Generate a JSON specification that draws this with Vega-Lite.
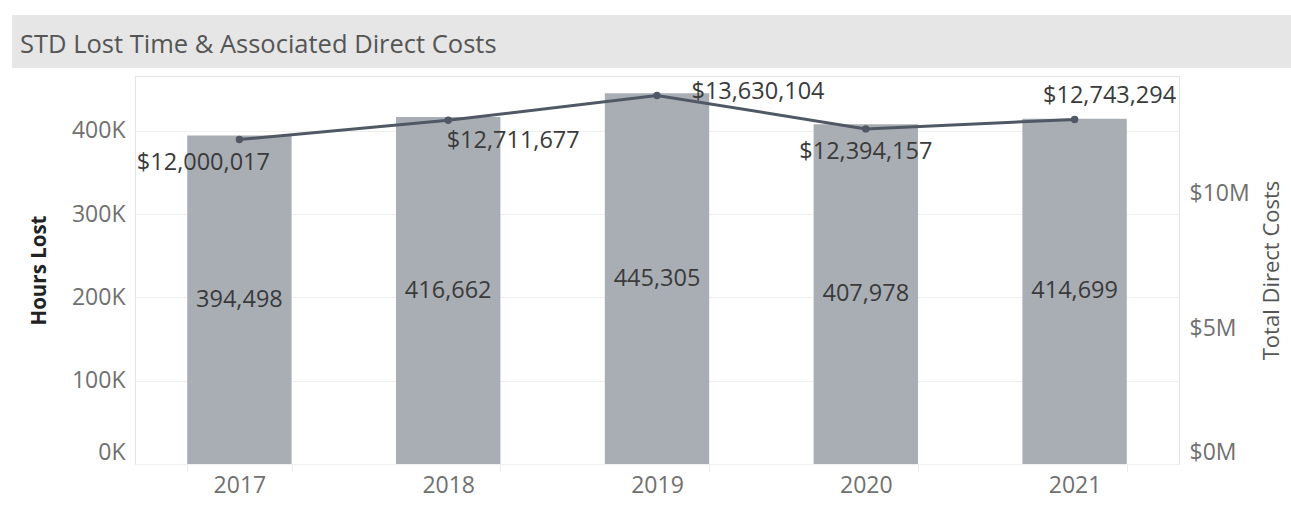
{
  "$schema": "https://vega.github.io/schema/vega-lite/v6.json",
  "padding": {"left": 12, "top": 15, "right": 0, "bottom": 0},
  "background": "white",
  "config": {
    "font": "Open Sans",
    "view": {"stroke": null},
    "axis": {"labelFont": "Open Sans", "titleFont": "Open Sans"}
  },
  "data": {
    "values": [
      {"year": "2017", "hours": 394498, "cost": 12000017},
      {"year": "2018", "hours": 416662, "cost": 12711677},
      {"year": "2019", "hours": 445305, "cost": 13630104},
      {"year": "2020", "hours": 407978, "cost": 12394157},
      {"year": "2021", "hours": 414699, "cost": 12743294}
    ]
  },
  "spacing": 8,
  "align": "none",
  "bounds": "flush",
  "vconcat": [
    {
      "width": 1279,
      "height": 53,
      "data": {"values": []},
      "view": {"fill": "#e6e6e6", "stroke": null},
      "mark": {"type": "text"},
      "encoding": {},
      "title": {
        "text": "STD Lost Time & Associated Direct Costs",
        "orient": "bottom",
        "anchor": "start",
        "frame": "group",
        "offset": -15,
        "dx": 8,
        "baseline": "alphabetic",
        "fontSize": 25.5,
        "fontWeight": "normal",
        "color": "#555555"
      }
    },
    {
      "spacing": 0,
      "hconcat": [
        {
          "width": 16,
          "height": 388,
          "data": {"values": []},
          "mark": {"type": "text"},
          "encoding": {}
        },
        {
          "width": 1044,
          "height": 388,
          "view": {"stroke": "#e3e3e3"},
          "encoding": {
            "x": {
              "field": "year",
              "type": "ordinal",
              "scale": {"paddingInner": 0.5, "paddingOuter": 0.25},
              "axis": {
                "title": null,
                "labelAngle": 0,
                "labelFontSize": 23,
                "labelColor": "#707070",
                "labelPadding": 2,
                "domain": false,
                "ticks": true,
                "tickBand": "extent",
                "tickColor": "#ebebeb",
                "tickSize": 8,
                "grid": false
              }
            }
          },
          "layer": [
            {
              "mark": {"type": "bar", "color": "#a9aeb5"},
              "encoding": {
                "y": {
                  "field": "hours",
                  "type": "quantitative",
                  "scale": {"domain": [0, 466000], "nice": false},
                  "axis": {
                    "title": "Hours Lost",
                    "titleFontSize": 20.5,
                    "titleFontWeight": "bold",
                    "titleColor": "#222222",
                    "titlePadding": 22,
                    "values": [0, 100000, 200000, 300000, 400000],
                    "labelExpr": "datum.value / 1000 + 'K'",
                    "labelFontSize": 23,
                    "labelColor": "#707070",
                    "labelPadding": 10,
                    "labelBaseline": {"condition": {"test": "datum.value == 0", "value": "bottom"}, "value": "middle"},
                    "ticks": false,
                    "domain": false,
                    "grid": true,
                    "gridColor": "#efefef"
                  }
                }
              }
            },
            {
              "mark": {"type": "text", "fontSize": 23.5, "color": "#3a3a3a"},
              "encoding": {
                "y": {"field": "hours", "type": "quantitative", "scale": {"domain": [0, 932000], "nice": false}, "axis": null},
                "text": {"field": "hours", "type": "quantitative", "format": ","}
              }
            },
            {
              "mark": {"type": "line", "color": "#4f5864", "strokeWidth": 3, "point": {"filled": true, "size": 55, "color": "#4f5864"}},
              "encoding": {
                "y": {
                  "field": "cost",
                  "type": "quantitative",
                  "scale": {"domain": [0, 14350000], "nice": false},
                  "axis": {
                    "orient": "right",
                    "title": "Total Direct Costs",
                    "titleAngle": 270,
                    "titleFontSize": 22,
                    "titleFontWeight": "normal",
                    "titleColor": "#555555",
                    "titlePadding": 34,
                    "values": [0, 5000000, 10000000],
                    "labelExpr": "'$' + datum.value / 1000000 + 'M'",
                    "labelFontSize": 23,
                    "labelColor": "#707070",
                    "labelPadding": 10,
                    "labelBaseline": {"condition": {"test": "datum.value == 0", "value": "bottom"}, "value": "middle"},
                    "ticks": false,
                    "domain": false,
                    "grid": false
                  }
                }
              }
            },
            {
              "transform": [{"filter": "datum.year == '2017'"}],
              "mark": {"type": "text", "fontSize": 23.5, "color": "#3a3a3a", "dx": -36, "dy": 23},
              "encoding": {
                "y": {"field": "cost", "type": "quantitative", "scale": {"domain": [0, 14350000], "nice": false}, "axis": null},
                "text": {"field": "cost", "type": "quantitative", "format": "$,.0f"}
              }
            },
            {
              "transform": [{"filter": "datum.year == '2018'"}],
              "mark": {"type": "text", "fontSize": 23.5, "color": "#3a3a3a", "dx": 65, "dy": 21},
              "encoding": {
                "y": {"field": "cost", "type": "quantitative", "scale": {"domain": [0, 14350000], "nice": false}, "axis": null},
                "text": {"field": "cost", "type": "quantitative", "format": "$,.0f"}
              }
            },
            {
              "transform": [{"filter": "datum.year == '2019'"}],
              "mark": {"type": "text", "fontSize": 23.5, "color": "#3a3a3a", "dx": 101, "dy": -3},
              "encoding": {
                "y": {"field": "cost", "type": "quantitative", "scale": {"domain": [0, 14350000], "nice": false}, "axis": null},
                "text": {"field": "cost", "type": "quantitative", "format": "$,.0f"}
              }
            },
            {
              "transform": [{"filter": "datum.year == '2020'"}],
              "mark": {"type": "text", "fontSize": 23.5, "color": "#3a3a3a", "dx": 0, "dy": 23},
              "encoding": {
                "y": {"field": "cost", "type": "quantitative", "scale": {"domain": [0, 14350000], "nice": false}, "axis": null},
                "text": {"field": "cost", "type": "quantitative", "format": "$,.0f"}
              }
            },
            {
              "transform": [{"filter": "datum.year == '2021'"}],
              "mark": {"type": "text", "fontSize": 23.5, "color": "#3a3a3a", "dx": 35, "dy": -23},
              "encoding": {
                "y": {"field": "cost", "type": "quantitative", "scale": {"domain": [0, 14350000], "nice": false}, "axis": null},
                "text": {"field": "cost", "type": "quantitative", "format": "$,.0f"}
              }
            }
          ],
          "resolve": {"scale": {"y": "independent"}}
        }
      ]
    }
  ]
}
